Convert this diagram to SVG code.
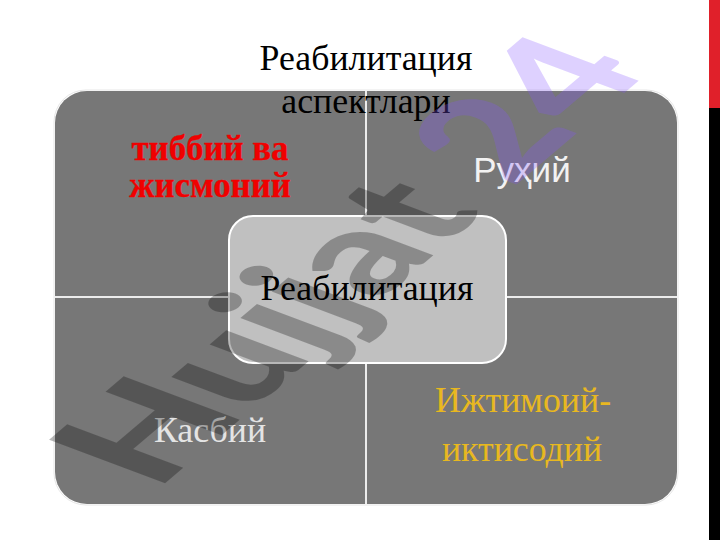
<svg xmlns="http://www.w3.org/2000/svg" width="720" height="540" viewBox="0 0 720 540">
<style>
.q{fill:#777777}
.s{font-family:"Liberation Serif",serif;font-size:35.8px;text-anchor:middle}
.b{font-weight:bold;font-size:34.8px;stroke:#f00000;stroke-width:.3px}
.wm{font-family:"Lato",sans-serif;font-weight:900;font-size:100px}
</style>
<rect width="720" height="540" fill="#ffffff"/>
<rect x="709" y="0" width="11" height="108" fill="#e0202a"/>
<rect x="709" y="108" width="11" height="432" fill="#000000"/>
<rect x="54" y="90" width="624" height="415" rx="32" fill="none" stroke="#e6e6e6" stroke-width="1"/>
<g id="q1"><path class="q" d="M55 297V123a32 32 0 0 1 32-32H366V297Z"/></g>
<g id="q2"><path class="q" d="M366 91H645a32 32 0 0 1 32 32V297H366Z"/></g>
<g id="q3"><path class="q" d="M55 297H366V504H87a32 32 0 0 1-32-32Z"/></g>
<g id="q4"><path class="q" d="M366 297H677V472a32 32 0 0 1-32 32H366Z"/></g>
<g id="connectors" stroke="#ececec" stroke-width="2" fill="none">
<path d="M366 91V504"/>
<path d="M55 297H677"/>
</g>
<g id="center"><rect x="229" y="216" width="277" height="147" rx="24" fill="#c0c0c0" stroke="#ffffff" stroke-width="2"/></g>
<g id="labels">
<text class="s b" x="210" y="160" fill="#f00000">тиббий ва</text>
<text class="s b" x="210" y="197" fill="#f00000">жисмоний</text>
<text x="522" y="182" fill="#f2f2f2" text-anchor="middle" style="font-family:'Liberation Sans',sans-serif;font-size:35px">Руҳий</text>
<text class="s" x="210" y="442" fill="#e4e4e4">Касбий</text>
<text class="s" x="523" y="412" fill="#e8b820">Ижтимоий-</text>
<text class="s" x="522" y="461" fill="#e8b820">иктисодий</text>
<text class="s" x="366" y="70" fill="#000000">Реабилитация</text>
<text class="s" x="366" y="113" fill="#000000">аспектлари</text>
<text class="s" x="367" y="300" fill="#000000">Реабилитация</text>
</g>
<g id="watermark">
<text class="wm" transform="matrix(1.2 -1.02 1.6 .6 156 491)"><tspan fill="#000000" fill-opacity=".28">Hujjat</tspan> <tspan fill="#8454ff" fill-opacity=".27">24</tspan></text>
</g>
</svg>
